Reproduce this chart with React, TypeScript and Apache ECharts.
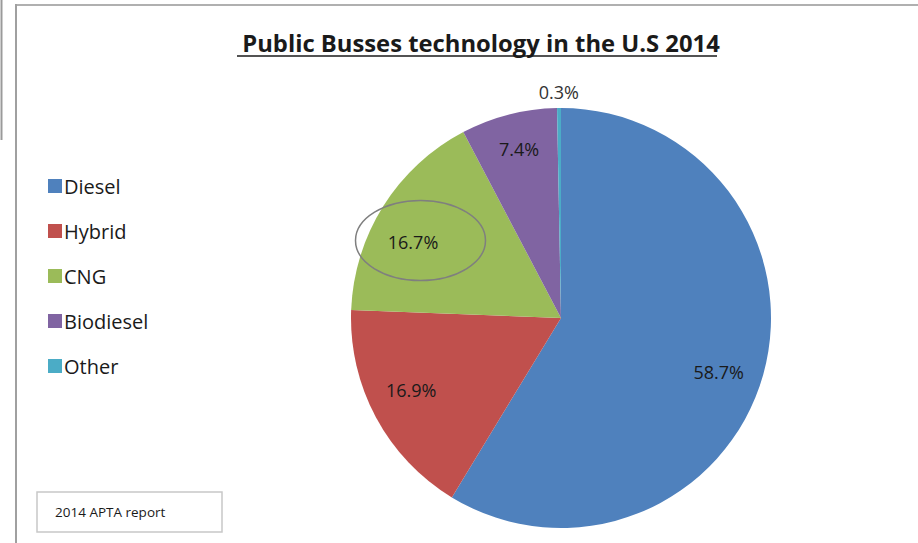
import React, { useEffect, useRef } from "react";
import * as echarts from "echarts";

const categories = ["Diesel", "Hybrid", "CNG", "Biodiesel", "Other"];
const shares = [58.7, 16.9, 16.7, 7.4, 0.3];
const labels = ["58.7%", "16.9%", "16.7%", "7.4%", "0.3%"];
const colors = ["#4F81BD", "#C0504D", "#9BBB59", "#8064A2", "#4BACC6"];
const titleText = "Public Busses technology in the U.S 2014";
const sourceText = "2014 APTA report";

const FONT = "'Open Sans', 'Liberation Sans', Arial, sans-serif";
const labelOffsets = [[-5, 8], [-1, -8], [-5, 14], [0, -5], [0, 3]];

export default function App() {
  const ref = useRef<HTMLDivElement>(null);
  useEffect(() => {
    if (!ref.current) return;
    const chart = echarts.init(ref.current, null, { renderer: "svg" });
    const center = [561, 318];
    const mainData = categories.map((c, i) => ({
      name: c,
      value: shares[i],
      itemStyle: { color: colors[i] },
    }));
    const labelData = (showIdx: (i: number) => boolean) =>
      categories.map((c, i) => ({
        name: c,
        value: shares[i],
        itemStyle: { color: "rgba(0,0,0,0)" },
        label: { show: showIdx(i), offset: labelOffsets[i] },
      }));
    const labelStyle = {
      position: "inside",
      formatter: (p: any) => labels[p.dataIndex],
      fontFamily: FONT,
      fontSize: 18,
      color: "#1a1a1a",
    };
    chart.setOption({
      animation: false,
      backgroundColor: "#ffffff",
      title: {
        text: titleText,
        left: 476,
        top: 26,
        textAlign: "center",
        textStyle: { fontFamily: FONT, fontSize: 23.8, fontWeight: "bold", color: "#1a1a1a" },
      },
      legend: {
        orient: "vertical",
        left: 43,
        top: 171,
        icon: "rect",
        itemWidth: 14,
        itemHeight: 14,
        itemGap: 25,
        selectedMode: false,
        data: categories,
        textStyle: { fontFamily: FONT, fontSize: 20, color: "#1a1a1a", padding: [0, 0, 0, -3], height: 20, lineHeight: 20 },
      },
      series: [
        {
          type: "pie",
          center,
          radius: [0, 210],
          startAngle: 90,
          clockwise: true,
          silent: true,
          label: { show: false },
          labelLine: { show: false },
          data: mainData,
        },
        {
          type: "pie",
          center,
          radius: [156, 176],
          startAngle: 90,
          clockwise: true,
          silent: true,
          label: labelStyle,
          labelLine: { show: false },
          data: labelData((i) => i < 4),
        },
        {
          type: "pie",
          center,
          radius: [216, 236],
          startAngle: 90,
          clockwise: true,
          silent: true,
          label: { ...labelStyle, color: "#333" },
          labelLine: { show: false },
          data: labelData((i) => i === 4),
        },
      ],
      graphic: [
        { type: "line", shape: { x1: 1.5, y1: 0, x2: 1.5, y2: 140 }, style: { stroke: "#9a9a9a", lineWidth: 2 } },
        { type: "line", shape: { x1: 16, y1: 5, x2: 918, y2: 5 }, style: { stroke: "#b0b0b0", lineWidth: 2 } },
        { type: "line", shape: { x1: 16, y1: 4, x2: 16, y2: 543 }, style: { stroke: "#a0a0a0", lineWidth: 2 } },
        { type: "line", shape: { x1: 237, y1: 56, x2: 717, y2: 56 }, style: { stroke: "#1a1a1a", lineWidth: 1.5 } },
        { type: "ellipse", z: 100, shape: { cx: 420.5, cy: 240.5, rx: 65, ry: 40 }, style: { fill: "none", stroke: "#7f7f7f", lineWidth: 1.5 } },
        { type: "rect", shape: { x: 37, y: 492, width: 185, height: 40 }, style: { fill: "#fff", stroke: "#c8c8c8", lineWidth: 1.5 } },
        { type: "text", x: 55, y: 512, style: { text: sourceText, fontFamily: FONT, fontSize: 13.5, fill: "#1a1a1a", textVerticalAlign: "middle" } },
      ],
    });
    return () => chart.dispose();
  }, []);
  return (
    <div
      ref={ref}
      style={{ position: "fixed", left: 0, top: 0, width: 918, height: 543 }}
    />
  );
}
